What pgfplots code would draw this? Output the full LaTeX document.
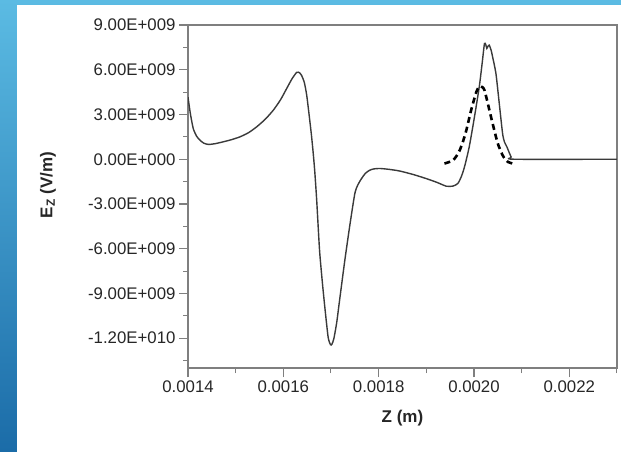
\documentclass[border=0pt]{standalone}
\usepackage{fontspec}
\setmainfont{Liberation Sans}
\usepackage{pgfplots}
\pgfplotsset{compat=1.18}
\definecolor{bgtop}{HTML}{5BBBE3}
\definecolor{bgbot}{HTML}{1B6CA8}
\definecolor{frame}{HTML}{7F7F7F}
\definecolor{curve}{HTML}{3A3A3A}
\definecolor{lbl}{HTML}{262626}

% E_z along z, values in units of 1e9 V/m
\pgfplotstableread{
z         E
0.001400  4.16
0.001405  3.05
0.001411  2.06
0.001418  1.55
0.001425  1.28
0.001433  1.08
0.001443  0.99
0.001458  1.05
0.001473  1.16
0.001490  1.30
0.001509  1.50
0.001527  1.78
0.001544  2.17
0.001562  2.68
0.001579  3.29
0.001594  3.98
0.001607  4.74
0.001618  5.38
0.001628  5.82
0.001634  5.80
0.001638  5.64
0.001644  5.15
0.001649  4.30
0.001654  3.00
0.001659  1.61
0.001663  0.30
0.001666 -0.85
0.001670 -2.75
0.001676 -6.11
0.001682 -8.30
0.001687 -9.91
0.001694 -11.93
0.001699 -12.44
0.001702 -12.40
0.001706 -12.03
0.001712 -10.95
0.001718 -9.46
0.001729 -6.78
0.001739 -4.54
0.001750 -2.30
0.001757 -1.68
0.001764 -1.30
0.001772 -0.95
0.001781 -0.74
0.001790 -0.65
0.001802 -0.62
0.001822 -0.68
0.001844 -0.79
0.001872 -1.02
0.001900 -1.30
0.001922 -1.55
0.001942 -1.81
0.001956 -1.80
0.001966 -1.63
0.001973 -1.20
0.001980 -0.52
0.001990  0.83
0.002001  2.84
0.002011  4.85
0.002017  6.40
0.002022  7.76
0.002025  7.65
0.002027  7.43
0.002029  7.55
0.002032  7.65
0.002036  7.30
0.002039  6.87
0.002046  5.75
0.002053  3.74
0.002060  1.72
0.002064  1.15
0.002069  0.83
0.002078  0.15
0.002085  0.00
0.002300  0.00
}\solid

\pgfplotstableread{
z         E
0.001938 -0.29
0.001947 -0.20
0.001956 -0.07
0.001963  0.20
0.001970  0.60
0.001977  1.20
0.001984  1.95
0.001994  3.29
0.002005  4.52
0.002010  4.82
0.002014  4.90
0.002018  4.82
0.002022  4.63
0.002029  3.74
0.002039  2.40
0.002050  1.05
0.002060  0.27
0.002066 -0.02
0.002071 -0.18
0.002081 -0.29
}\dashedcurve

\begin{document}
\begin{tikzpicture}[x=1pt,y=1pt]
\path[use as bounding box] (0,0) rectangle (621,-451);
\shade[top color=bgtop,bottom color=bgbot] (0,0) rectangle (621,-451);
\fill[white] (17,-5) rectangle (623,-453);
\begin{axis}[
  at={(188pt,-368pt)}, anchor=south west,
  scale only axis, width=429pt, height=343pt,
  xmin=0.0014, xmax=0.0023, ymin=-14, ymax=9,
  scaled x ticks=false, scaled y ticks=false,
  xtick={0.0014,0.0016,0.0018,0.0020,0.0022},
  xticklabels={0.0014,0.0016,0.0018,0.0020,0.0022},
  minor xtick={0.0015,0.0017,0.0019,0.0021,0.0023},
  ytick={-12,-9,-6,-3,0,3,6,9},
  yticklabels={-1.20E+010,-9.00E+009,-6.00E+009,-3.00E+009,0.00E+000,3.00E+009,6.00E+009,9.00E+009},
  minor ytick={-13.5,-10.5,-7.5,-4.5,-1.5,1.5,4.5,7.5},
  xtick pos=bottom, ytick pos=left,
  tick align=outside,
  major tick length=9pt, minor tick length=5pt,
  axis line style={draw=frame, line width=1.3pt},
  every tick/.style={draw=frame, line width=1.1pt},
  every minor tick/.style={draw=frame, line width=1pt},
  tick label style={font=\fontsize{16.8}{19}\selectfont, text=lbl},
  xlabel={\textbf{Z (m)}},
  ylabel={\textbf{E\textsubscript{Z} (V/m)}},
  label style={font=\fontsize{17}{19}\selectfont, text=lbl},
  xlabel style={at={([yshift=-50pt]rel axis cs:0.5,0)}, anchor=center},
  ylabel style={at={([xshift=-140pt]rel axis cs:0,0.534)}, anchor=center},
]
\addplot[curve, line width=1.4pt, smooth, tension=0.4] table[x=z,y=E] {\solid};
\addplot[black, line width=2.6pt, dash pattern=on 6pt off 4pt, smooth, tension=0.4] table[x=z,y=E] {\dashedcurve};
\end{axis}
\end{tikzpicture}
\end{document}
